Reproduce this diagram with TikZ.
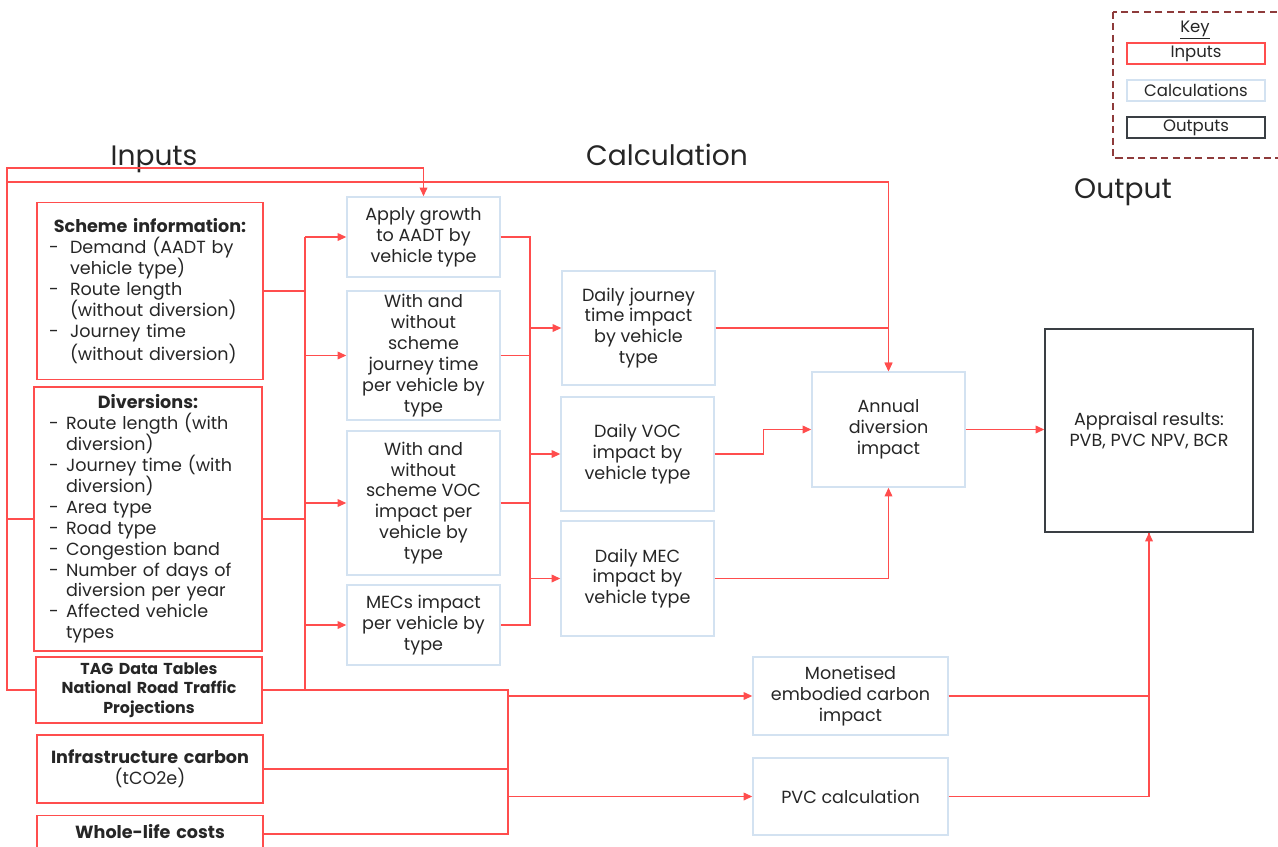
\documentclass[tikz,border=0pt]{standalone}
\usepackage{fontspec}
\setmainfont{Poppins}
\usetikzlibrary{arrows.meta}

\definecolor{inred}{HTML}{FF4D4D}
\definecolor{calcblue}{HTML}{D3E2F1}
\definecolor{outgrey}{HTML}{3A3F44}
\definecolor{keybrown}{HTML}{8E3B3B}
\definecolor{txt}{HTML}{262626}

\tikzset{
	inedge/.style={draw=inred, line width=0.8pt},
	calcedge/.style={draw=calcblue, line width=0.8pt},
	outedge/.style={draw=outgrey, line width=0.8pt},
	inbox/.style={inedge, text=txt, inner xsep=0.24cm, inner ysep=0pt, text width=4.04cm, font=\fontsize{10}{11.9}\selectfont},
	calcbox/.style={calcedge, text=txt, inner sep=0pt, minimum width=3.06cm, align=center, font=\fontsize{10}{11.9}\selectfont},
	outbox/.style={outedge, text=txt, inner sep=0pt, align=center, font=\fontsize{10}{11.9}\selectfont},
	keybox/.style={inner sep=0pt, minimum width=2.76cm, minimum height=0.42cm, text=txt, font=\fontsize{9.4}{11}\selectfont},
	heading/.style={text=txt, anchor=base, font=\fontsize{16}{19}\selectfont},
	link/.style={draw=inred, line width=0.8pt},
	feed/.style={link, -{Triangle[length=5pt, width=4.4pt]}},
}

\newcommand{\dashln}[2]{\makebox[#1][l]{-}#2}
\newcommand{\tightlines}{\lineskiplimit=-5pt\relax}

\begin{document}
\begin{tikzpicture}[x=0.02cm, y=-0.02cm]
	%%%%% START %%%%%
	\useasboundingbox (0,0) rectangle (1278,846);
	\clip (0,0) rectangle (1278,846);

	% headings
	\node[heading] (hin) at (154,165) {Inputs};
	\node[heading] (hcalc) at (667,165) {Calculation};
	\node[heading] (hout) at (1123,198) {Output};

	% key
	\draw[draw=keybrown, line width=0.8pt, dash pattern=on 4pt off 2.5pt] (1113,12) rectangle (1300,158);
	\node[keybox, minimum height=0pt, anchor=base] (keyhead) at (1195,32) {\underline{Key}};
	\node[keybox, inedge] (keyin) at (1196,53.5) {Inputs};
	\node[keybox, calcedge] (keycalc) at (1196,90.5) {Calculations};
	\node[keybox, outedge] (keyout) at (1196,127.5) {Outputs};

	% inputs
	\node[inbox, align=left, minimum height=3.54cm] (scheme) at (150,291) {\tightlines
		{\centering\bfseries Scheme information:\par}
		\dashln{0.42cm}{Demand (AADT by}\\
		\hspace*{0.42cm}vehicle type)\\
		\dashln{0.42cm}{Route length}\\
		\hspace*{0.42cm}(without diversion)\\
		\dashln{0.42cm}{Journey time}\\
		\hspace*{0.42cm}(without diversion)};
	\node[inbox, align=left, text width=3.96cm, inner xsep=0.3cm, minimum height=5.28cm] (divers) at (148,519) {\tightlines
		{\centering\bfseries Diversions:\par}
		\dashln{0.34cm}{Route length (with}\\
		\hspace*{0.34cm}diversion)\\
		\dashln{0.34cm}{Journey time (with}\\
		\hspace*{0.34cm}diversion)\\
		\dashln{0.34cm}{Area type}\\
		\dashln{0.34cm}{Road type}\\
		\dashln{0.34cm}{Congestion band}\\
		\dashln{0.34cm}{Number of days of}\\
		\hspace*{0.34cm}diversion per year\\
		\dashln{0.34cm}{Affected vehicle}\\
		\hspace*{0.34cm}types};
	\node[inbox, align=center, minimum height=1.32cm, font=\fontsize{9}{11}\selectfont\bfseries] (tag) at (149,690) {TAG Data Tables\\National Road Traffic\\Projections};
	\node[inbox, align=center, minimum height=1.36cm] (infra) at (150,769) {\textbf{Infrastructure carbon}\\(tCO2e)};
	\node[inbox, align=center, anchor=north, text height=0.46cm, text depth=0.6cm] (wlc) at (150,815) {\textbf{Whole-life costs}};

	% calculations
	\node[calcbox, minimum height=1.6cm] (growth) at (423.5,237) {Apply growth\\to AADT by\\vehicle type};
	\node[calcbox, minimum height=2.58cm] (jtime) at (423.5,355.5) {With and\\without\\scheme\\journey time\\per vehicle by\\type};
	\node[calcbox, minimum height=2.88cm] (voc) at (423.5,503) {With and\\without\\scheme VOC\\impact per\\vehicle by\\type};
	\node[calcbox, minimum height=1.6cm] (mecs) at (423.5,625) {MECs impact\\per vehicle by\\type};

	\node[calcbox, minimum height=2.28cm] (djt) at (638.5,328) {Daily journey\\time impact\\by vehicle\\type};
	\node[calcbox, minimum height=2.28cm] (dvoc) at (637.5,454) {Daily VOC\\impact by\\vehicle type};
	\node[calcbox, minimum height=2.3cm] (dmec) at (637.5,578.5) {Daily MEC\\impact by\\vehicle type};

	\node[calcbox, minimum height=2.3cm] (annual) at (888.5,429.5) {Annual\\diversion\\impact};
	\node[calcbox, minimum width=3.9cm, minimum height=1.56cm] (monet) at (850.5,696) {Monetised\\embodied carbon\\impact};
	\node[calcbox, minimum width=3.9cm, minimum height=1.54cm] (pvc) at (850.5,796.5) {PVC calculation};

	% output
	\node[outbox, minimum width=4.16cm, minimum height=4.06cm] (results) at (1149,430.5) {Appraisal results:\\PVB, PVC NPV, BCR};

	% bus lines
	\coordinate (leftbus) at (7,0);
	\coordinate (topA) at (0,168);
	\coordinate (topB) at (0,182);
	\coordinate (inbus) at (305,0);
	\coordinate (carbbus) at (508,0);
	\coordinate (calcbus) at (530,0);

	% inputs round the top
	\draw[link] (divers.west) -- (leftbus |- divers.west);
	\draw[feed] (tag.west) -| (leftbus |- topA) -| (growth.north);
	\draw[feed] (leftbus |- topB) -| (annual.north);

	% inputs to the first calculations
	\draw[link] (scheme.east) -- (inbus |- scheme.east);
	\draw[link] (divers.east) -- (inbus |- divers.east);
	\draw[link] (inbus |- growth.west) -- (inbus |- tag.east);
	\draw[feed] (inbus |- growth.west) -- (growth.west);
	\draw[feed] (inbus |- jtime.west) -- (jtime.west);
	\draw[feed] (inbus |- voc.west) -- (voc.west);
	\draw[feed] (inbus |- mecs.west) -- (mecs.west);

	% carbon and costs
	\draw[link] (tag.east) -| (carbbus |- wlc.mid east) -- (wlc.mid east);
	\draw[link] (infra.east) -- (carbbus |- infra.east);
	\draw[feed] (carbbus |- monet.west) -- (monet.west);
	\draw[feed] (carbbus |- pvc.west) -- (pvc.west);

	% per vehicle to daily
	\draw[link] (growth.east) -| (calcbus |- mecs.east) -- (mecs.east);
	\draw[link] (jtime.east) -- (calcbus |- jtime.east);
	\draw[link] (voc.east) -- (calcbus |- voc.east);
	\draw[feed] (calcbus |- djt.west) -- (djt.west);
	\draw[feed] (calcbus |- dvoc.west) -- (dvoc.west);
	\draw[feed] (calcbus |- dmec.west) -- (dmec.west);

	% daily to annual, then results
	\draw[feed] (djt.east) -| (annual.north);
	\draw[feed] (dvoc.east) -- ++(49,0) |- (annual.west);
	\draw[feed] (dmec.east) -| (annual.south);
	\draw[feed] (annual.east) -- (results.west |- annual.east);
	\draw[link] (monet.east) -| (results.south);
	\draw[feed] (pvc.east) -| (results.south);

	%%%%% END %%%%%
\end{tikzpicture}
\end{document}
